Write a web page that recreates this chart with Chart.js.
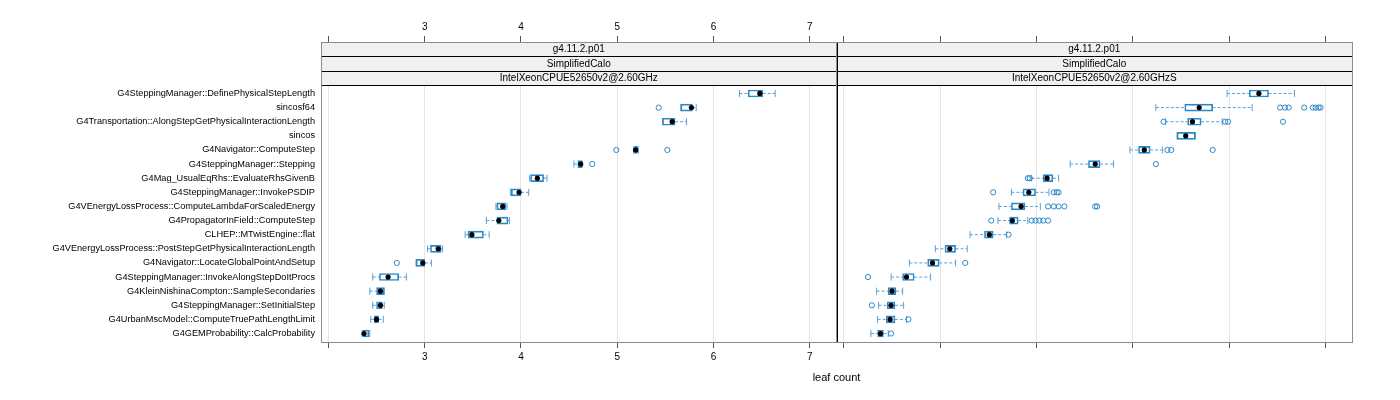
<!DOCTYPE html>
<html>
<head>
<meta charset="utf-8">
<script src="https://cdn.jsdelivr.net/npm/chart.js@4.4.1/dist/chart.umd.min.js"></script>
<style>
html, body { margin: 0; padding: 0; background: #fff; }
</style>
</head>
<body>
<canvas id="chart" width="1400" height="400"></canvas>
<script>
let categories = [
    "G4SteppingManager::DefinePhysicalStepLength",
    "sincosf64",
    "G4Transportation::AlongStepGetPhysicalInteractionLength",
    "sincos",
    "G4Navigator::ComputeStep",
    "G4SteppingManager::Stepping",
    "G4Mag_UsualEqRhs::EvaluateRhsGivenB",
    "G4SteppingManager::InvokePSDIP",
    "G4VEnergyLossProcess::ComputeLambdaForScaledEnergy",
    "G4PropagatorInField::ComputeStep",
    "CLHEP::MTwistEngine::flat",
    "G4VEnergyLossProcess::PostStepGetPhysicalInteractionLength",
    "G4Navigator::LocateGlobalPointAndSetup",
    "G4SteppingManager::InvokeAlongStepDoItProcs",
    "G4KleinNishinaCompton::SampleSecondaries",
    "G4SteppingManager::SetInitialStep",
    "G4UrbanMscModel::ComputeTruePathLengthLimit",
    "G4GEMProbability::CalcProbability"
];
let strip1 = ["g4.11.2.p01", "SimplifiedCalo", "IntelXeonCPUE52650v2@2.60GHz"];
let strip2 = ["g4.11.2.p01", "SimplifiedCalo", "IntelXeonCPUE52650v2@2.60GHzS"];
let xTicks = [2, 3, 4, 5, 6, 7];
let xTitle = "leaf count";

// left panel (2.60GHz)
let p1Lo  = [6.27, 5.66, 5.47, null, 5.17, 4.55, 4.09, 3.89, 3.74, 3.64, 3.42, 3.03, 2.91, 2.46, 2.43, 2.46, 2.44, 2.35];
let p1Q1  = [6.36, 5.66, 5.47, null, 5.18, 4.59, 4.10, 3.90, 3.75, 3.75, 3.45, 3.06, 2.91, 2.53, 2.50, 2.50, 2.475, 2.36];
let p1Med = [6.48, 5.77, 5.57, null, 5.19, 4.62, 4.17, 3.98, 3.81, 3.77, 3.49, 3.14, 2.98, 2.62, 2.54, 2.54, 2.50, 2.37];
let p1Q3  = [6.51, 5.78, 5.60, null, 5.21, 4.63, 4.235, 4.00, 3.84, 3.865, 3.61, 3.17, 3.00, 2.73, 2.58, 2.56, 2.52, 2.42];
let p1Hi  = [6.64, 5.82, 5.72, null, 5.22, 4.64, 4.27, 4.08, 3.855, 3.88, 3.67, 3.185, 3.07, 2.81, 2.58, 2.58, 2.57, 2.43];
let p1Out = [[], [5.43], [], [], [4.99, 5.52], [4.74], [], [], [], [], [], [], [2.71], [], [], [], [], []];

// right panel (2.60GHzS)
let p2Lo  = [5.98, 5.24, 5.34, 5.46, 4.97, 4.35, 3.95, 3.74, 3.61, 3.60, 3.31, 2.95, 2.68, 2.49, 2.34, 2.36, 2.35, 2.28];
let p2Q1  = [6.21, 5.54, 5.57, 5.46, 5.06, 4.54, 4.07, 3.86, 3.74, 3.72, 3.46, 3.05, 2.87, 2.61, 2.46, 2.45, 2.44, 2.35];
let p2Med = [6.31, 5.69, 5.62, 5.55, 5.12, 4.61, 4.11, 3.92, 3.84, 3.75, 3.51, 3.10, 2.92, 2.65, 2.50, 2.49, 2.48, 2.38];
let p2Q3  = [6.41, 5.83, 5.71, 5.65, 5.18, 4.66, 4.17, 3.99, 3.88, 3.81, 3.55, 3.16, 2.99, 2.73, 2.54, 2.53, 2.53, 2.41];
let p2Hi  = [6.68, 6.24, 5.93, 5.65, 5.31, 4.80, 4.23, 4.13, 4.04, 3.91, 3.69, 3.28, 3.16, 2.90, 2.61, 2.62, 2.65, 2.46];
let p2Out = [
    [], [6.53, 6.58, 6.62, 6.78, 6.87, 6.90, 6.93, 6.95], [5.32, 5.96, 5.99, 6.56], [],
    [5.36, 5.40, 5.83], [5.24], [3.91, 3.93], [3.55, 4.18, 4.21, 4.23],
    [4.12, 4.18, 4.23, 4.29, 4.61, 4.63], [3.53, 3.95, 3.99, 4.03, 4.07, 4.12], [3.71], [],
    [3.26], [2.25], [], [2.29], [2.67], [2.49]
];

const BLUE = "#2a88c8";
const WHISK = "#5aa0d6";
const X_MIN = 1.923, X_MAX = 7.277;
const N = categories.length;
const PANEL_TOP = N + 0.6;
const Y_MAX = PANEL_TOP + 3.045; // room for the three strips

Chart.defaults.font.family = '"Liberation Sans", Arial, sans-serif';
Chart.defaults.color = "#000";

function yOf(i) { return N - i; }

function whiskers(lo, q1, q3, hi) {
    let pts = [];
    categories.forEach((c, i) => {
        if (lo[i] == null) return;
        pts.push({x: lo[i], y: yOf(i)}, {x: q1[i], y: yOf(i)}, {x: NaN, y: NaN});
        pts.push({x: q3[i], y: yOf(i)}, {x: hi[i], y: yOf(i)}, {x: NaN, y: NaN});
    });
    return pts;
}
function caps(lo, hi) {
    let pts = [];
    categories.forEach((c, i) => {
        if (lo[i] == null) return;
        pts.push({x: lo[i], y: yOf(i)}, {x: hi[i], y: yOf(i)});
    });
    return pts;
}
function boxes(q1, q3) {
    return categories.map((c, i) => ({x: q1[i] == null ? null : [q1[i], q3[i]], y: yOf(i)}))
        .filter(d => d.x != null);
}
function medians(med) {
    return categories.map((c, i) => ({x: med[i], y: yOf(i)})).filter(d => d.x != null);
}
function outliers(out) {
    let pts = [];
    out.forEach((list, i) => list.forEach(v => pts.push({x: v, y: yOf(i)})));
    return pts;
}

function panelSets(xid, lo, q1, med, q3, hi, out) {
    return [
        {type: "scatter", xAxisID: xid, yAxisID: "y", data: medians(med),
         pointRadius: 2.6, pointBackgroundColor: "#000", pointBorderColor: "#000", pointBorderWidth: 0},
        {type: "scatter", xAxisID: xid, yAxisID: "y", data: outliers(out),
         pointRadius: 2.6, pointBackgroundColor: "rgba(0,0,0,0)", pointBorderColor: BLUE, pointBorderWidth: 1},
        {type: "bar", indexAxis: "y", xAxisID: xid, yAxisID: "y", data: boxes(q1, q3),
         barThickness: 7, grouped: false, borderSkipped: false, borderWidth: 1,
         borderColor: BLUE, backgroundColor: "rgba(255,255,255,0)"},
        {type: "scatter", xAxisID: xid, yAxisID: "y", data: caps(lo, hi),
         pointStyle: "line", rotation: 90, pointRadius: 3.5, pointBorderColor: WHISK, pointBorderWidth: 1},
        {type: "scatter", xAxisID: xid, yAxisID: "y", data: whiskers(lo, q1, q3, hi),
         showLine: true, borderColor: WHISK, borderWidth: 1, borderDash: [3, 2], pointRadius: 0}
    ];
}

function xAxis(pos, stack, showLabels, drawGrid) {
    return {
        type: "linear", position: pos, stack: stack, min: X_MIN, max: X_MAX,
        offset: false, beginAtZero: false,
        afterBuildTicks: s => { s.ticks = xTicks.map(v => ({value: v})); },
        afterFit: s => { s.height = pos === "top" ? 42 : 58; },
        border: {display: false},
        grid: {drawOnChartArea: drawGrid, offset: false, color: "#e6e6e6", tickColor: "#555", tickLength: 6},
        ticks: {padding: 3, autoSkip: false, maxRotation: 0, font: {size: 10}, color: "#000",
                callback: v => (showLabels && v !== 2) ? String(v) : ""}
    };
}

const panelFrame = {
    id: "panelFrame",
    beforeDatasetsDraw(chart) {
        const {ctx, chartArea, scales} = chart;
        const yTop = scales.y.getPixelForValue(PANEL_TOP);
        [[scales.x, strip1], [scales.x2, strip2]].forEach(([sx, labels]) => {
            const h = (yTop - chartArea.top) / labels.length;
            ctx.save();
            ctx.fillStyle = "#f0f0f0";
            ctx.fillRect(sx.left, chartArea.top, sx.right - sx.left, yTop - chartArea.top);
            ctx.fillStyle = "#000";
            ctx.font = '10px "Liberation Sans", Arial, sans-serif';
            ctx.textAlign = "center";
            ctx.textBaseline = "middle";
            labels.forEach((t, k) => ctx.fillText(t, (sx.left + sx.right) / 2, chartArea.top + h * (k + 0.5) + 0.5));
            ctx.strokeStyle = "#000";
            ctx.lineWidth = 1;
            ctx.beginPath();
            for (let k = 1; k <= labels.length; k++) {
                const y = Math.round(chartArea.top + h * k) + 0.5;
                ctx.moveTo(sx.left, y);
                ctx.lineTo(sx.right, y);
            }
            ctx.stroke();
            ctx.restore();
        });
    },
    afterDatasetsDraw(chart) {
        const {ctx, chartArea, scales} = chart;
        ctx.save();
        ctx.lineWidth = 1;
        ctx.strokeStyle = "#8c8c8c";
        [scales.x, scales.x2].forEach(sx => {
            ctx.strokeRect(Math.round(sx.left) + 0.5, Math.round(chartArea.top) + 0.5,
                Math.round(sx.right - sx.left) - 1, Math.round(chartArea.bottom - chartArea.top));
        });
        ctx.strokeStyle = "#000";
        const xs = Math.round(scales.x.right) + 0.5;
        ctx.beginPath();
        ctx.moveTo(xs, chartArea.top + 1);
        ctx.lineTo(xs, chartArea.bottom);
        ctx.stroke();
        ctx.restore();
    },
    afterDraw(chart) {
        const {ctx, scales} = chart;
        ctx.save();
        ctx.fillStyle = "#000";
        ctx.font = '11px "Liberation Sans", Arial, sans-serif';
        ctx.textAlign = "center";
        ctx.textBaseline = "middle";
        ctx.fillText(xTitle, (scales.x.left + scales.x2.right) / 2, 378);
        ctx.restore();
    }
};

let ctx = document.getElementById("chart").getContext("2d");

let chart = new Chart(ctx, {
    type: "scatter",
    data: {
        datasets: panelSets("x", p1Lo, p1Q1, p1Med, p1Q3, p1Hi, p1Out)
            .concat(panelSets("x2", p2Lo, p2Q1, p2Med, p2Q3, p2Hi, p2Out))
    },
    options: {
        responsive: false,
        animation: false,
        events: [],
        layout: {padding: {left: 0, right: 48, top: 0, bottom: 0}},
        plugins: {legend: {display: false}, tooltip: {enabled: false}},
        scales: {
            x: xAxis("bottom", "bot", true, true),
            x2: xAxis("bottom", "bot", false, true),
            xt1: xAxis("top", "top", false, false),
            xt2: xAxis("top", "top", true, false),
            y: {
                type: "linear", position: "left", min: 0.4, max: Y_MAX, offset: false,
                afterBuildTicks: s => { s.ticks = categories.map((c, i) => ({value: yOf(i)})); },
                afterFit: s => { s.width = 321; },
                grid: {display: false, drawTicks: false, offset: false},
                border: {display: false},
                ticks: {padding: 6, autoSkip: false, font: {size: 9.2}, color: "#000",
                        callback: v => categories[N - v]}
            }
        }
    },
    plugins: [panelFrame]
});
</script>
</body>
</html>
